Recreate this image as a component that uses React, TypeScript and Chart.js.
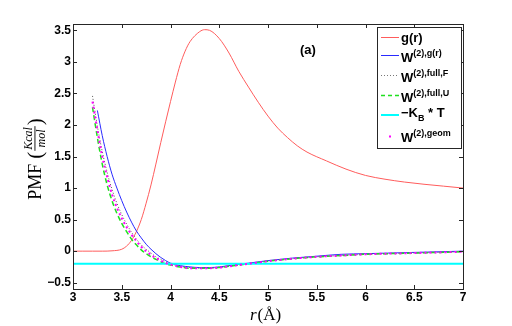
import React, { useEffect, useRef } from "react";
import { Chart, registerables } from "chart.js";
Chart.register(...registerables);

// ---- data ----
const rGr = [3.0, 3.1, 3.2, 3.3, 3.4, 3.5, 3.55, 3.6, 3.65, 3.7, 3.75, 3.8, 3.85, 3.9, 3.95, 4.0, 4.05, 4.1, 4.15, 4.2, 4.3, 4.35, 4.4, 4.5, 4.6, 4.7, 4.8, 4.9, 5.0, 5.1, 5.2, 5.3, 5.4, 5.6, 5.8, 6.0, 6.2, 6.4, 6.6, 6.8, 7.0];
const gr = [0, 0, 0, 0, 0.005, 0.03, 0.08, 0.17, 0.31, 0.5, 0.76, 1.05, 1.38, 1.72, 2.05, 2.37, 2.68, 2.96, 3.17, 3.32, 3.48, 3.51, 3.5, 3.37, 3.14, 2.85, 2.6, 2.36, 2.14, 1.95, 1.8, 1.67, 1.57, 1.43, 1.3, 1.2, 1.14, 1.095, 1.06, 1.03, 1.0];

const rW = [3.2, 3.25, 3.3, 3.35, 3.4, 3.45, 3.5, 3.55, 3.6, 3.65, 3.7, 3.75, 3.8, 3.85, 3.9, 3.95, 4.0, 4.1, 4.2, 4.3, 4.4, 4.5, 4.6, 4.7, 4.8, 5.0, 5.25, 5.5, 5.75, 6.0, 6.5, 7.0];
const rWgr = [3.25, 3.3, 3.35, 3.4, 3.45, 3.5, 3.55, 3.6, 3.65, 3.7, 3.75, 3.8, 3.85, 3.9, 3.95, 4.0, 4.1, 4.2, 4.3, 4.4, 4.5, 4.6, 4.7, 4.8, 5.0, 5.25, 5.5, 5.75, 6.0, 6.5, 7.0];
const wGr = [2.23, 1.83, 1.5, 1.22, 1.0, 0.8, 0.62, 0.46, 0.32, 0.21, 0.11, 0.03, -0.04, -0.1, -0.15, -0.19, -0.23, -0.25, -0.26, -0.26, -0.25, -0.23, -0.21, -0.19, -0.15, -0.11, -0.08, -0.05, -0.04, -0.02, 0.0];
const wFullF = [2.46, 1.98, 1.58, 1.25, 0.98, 0.76, 0.58, 0.43, 0.3, 0.19, 0.1, 0.03, -0.03, -0.09, -0.13, -0.17, -0.2, -0.24, -0.26, -0.27, -0.27, -0.26, -0.24, -0.22, -0.2, -0.16, -0.12, -0.09, -0.07, -0.05, -0.03, -0.01];
const wFullU = [2.28, 1.8, 1.38, 1.05, 0.8, 0.6, 0.44, 0.31, 0.19, 0.1, 0.02, -0.04, -0.09, -0.13, -0.17, -0.2, -0.22, -0.25, -0.27, -0.27, -0.27, -0.26, -0.24, -0.22, -0.2, -0.16, -0.12, -0.09, -0.07, -0.05, -0.03, -0.01];
const wGeom = [2.37, 1.92, 1.5, 1.18, 0.9, 0.69, 0.52, 0.38, 0.26, 0.16, 0.07, 0.0, -0.06, -0.11, -0.15, -0.19, -0.21, -0.25, -0.27, -0.27, -0.27, -0.26, -0.24, -0.22, -0.2, -0.16, -0.12, -0.09, -0.07, -0.05, -0.03, -0.01];
const rKT = [3, 7];
const kT = [-0.2, -0.2];

const xTicks = [3, 3.5, 4, 4.5, 5, 5.5, 6, 6.5, 7];
const yTicks = [-0.5, 0, 0.5, 1, 1.5, 2, 2.5, 3, 3.5];

const pts = (xs: number[], ys: number[]) => xs.map((x, i) => ({ x, y: ys[i] }));

const RED = "#ff5c5c";
const BLUE = "#2a2aff";
const DOT = "#555555";
const GREEN = "#1fe01f";
const CYAN = "#00ffff";
const MAG = "#ff00ff";

const SANS = '"Liberation Sans", Arial, sans-serif';
const SERIF = '"Liberation Serif", "DejaVu Serif", serif';

const decorPlugin = {
  id: "decor",
  afterDraw(chart: any) {
    const ctx = chart.ctx as CanvasRenderingContext2D;
    const a = chart.chartArea;
    const xs = chart.scales.x;
    const ys = chart.scales.y;
    ctx.save();
    // frame
    ctx.strokeStyle = "#262626";
    ctx.lineWidth = 1;
    ctx.strokeRect(Math.round(a.left) + 0.5, Math.round(a.top) + 0.5, Math.round(a.right - a.left), Math.round(a.bottom - a.top));
    ctx.beginPath();
    const tl = 4;
    xTicks.forEach((v) => {
      const px = Math.round(xs.getPixelForValue(v)) + 0.5;
      ctx.moveTo(px, a.bottom);
      ctx.lineTo(px, a.bottom - tl);
      ctx.moveTo(px, a.top);
      ctx.lineTo(px, a.top + tl);
    });
    yTicks.forEach((v) => {
      const py = Math.round(ys.getPixelForValue(v)) + 0.5;
      ctx.moveTo(a.left, py);
      ctx.lineTo(a.left + tl, py);
      ctx.moveTo(a.right, py);
      ctx.lineTo(a.right - tl, py);
    });
    ctx.stroke();

    // tick labels
    ctx.fillStyle = "#000";
    ctx.font = `bold 12px ${SANS}`;
    ctx.textAlign = "center";
    ctx.textBaseline = "middle";
    xTicks.forEach((v) => {
      ctx.fillText(String(v), xs.getPixelForValue(v), 298);
    });
    ctx.textAlign = "right";
    yTicks.forEach((v) => {
      ctx.fillText(v < 0 ? "\u2212" + String(-v) : String(v), a.left - 2, ys.getPixelForValue(v));
    });

    // (a) label
    ctx.fillStyle = "#000";
    ctx.font = `bold 13px ${SANS}`;
    ctx.textBaseline = "alphabetic";
    ctx.textAlign = "left";
    ctx.fillText("(a)", 300, 54);

    // legend
    const L = 377, R = 461, T = 27, B = 148;
    ctx.fillStyle = "#fff";
    ctx.fillRect(L, T, R - L, B - T);
    ctx.strokeStyle = "#262626";
    ctx.strokeRect(L + 0.5, T + 0.5, R - L, B - T);
    const lx0 = 381, lx1 = 399, tx = 401;
    const line = (y: number, color: string, w: number, dash: number[]) => {
      ctx.save();
      ctx.strokeStyle = color;
      ctx.lineWidth = w;
      ctx.setLineDash(dash);
      ctx.beginPath();
      ctx.moveTo(lx0, y);
      ctx.lineTo(lx1, y);
      ctx.stroke();
      ctx.restore();
    };
    const rich = (x: number, y: number, parts: [string, string][]) => {
      let cx = x;
      parts.forEach(([kind, s]) => {
        let dy = 0;
        if (kind === "n") ctx.font = `bold 13px ${SANS}`;
        else if (kind === "sup") { ctx.font = `bold 9px ${SANS}`; dy = -6; }
        else { ctx.font = `bold 9px ${SANS}`; dy = 4; }
        ctx.fillStyle = "#000";
        ctx.fillText(s, cx, y + dy);
        cx += ctx.measureText(s).width;
      });
    };
    line(37.5, RED, 1, []);
    rich(tx, 42, [["n", "g(r)"]]);
    line(55.5, BLUE, 1, []);
    rich(tx, 62, [["n", "W"], ["sup", "(2),g(r)"]]);
    line(75.5, "#777", 1, [1, 2]);
    rich(tx, 82, [["n", "W"], ["sup", "(2),full,F"]]);
    line(95.5, GREEN, 1.3, [4, 3]);
    rich(tx, 102, [["n", "W"], ["sup", "(2),full,U"]]);
    line(115, CYAN, 2, []);
    rich(tx, 117, [["n", "\u2212K"], ["sub", "B"], ["n", " * T"]]);
    ctx.fillStyle = MAG;
    ctx.fillRect(389, 135.5, 2, 2);
    rich(tx, 142, [["n", "W"], ["sup", "(2),geom"]]);

    // y title
    ctx.save();
    ctx.translate(35, 159);
    ctx.rotate(-Math.PI / 2);
    ctx.fillStyle = "#000";
    ctx.textBaseline = "alphabetic";
    const mainF = `18px ${SERIF}`;
    const parF = `21px ${SERIF}`;
    const fracF = `italic 12px ${SERIF}`;
    ctx.font = mainF;
    const wPMF = ctx.measureText("PMF").width;
    ctx.font = parF;
    const wP = ctx.measureText("(").width;
    ctx.font = fracF;
    const wFr = Math.max(ctx.measureText("Kcal").width, ctx.measureText("mol").width) + 4;
    const gap = 5;
    const total = wPMF + gap + wP + wFr + wP;
    let cx = -total / 2;
    ctx.font = mainF;
    ctx.textAlign = "left";
    ctx.fillText("PMF", cx, 6);
    cx += wPMF + gap;
    ctx.font = parF;
    ctx.fillText("(", cx, 7);
    cx += wP;
    ctx.font = fracF;
    ctx.textAlign = "center";
    ctx.fillText("Kcal", cx + wFr / 2, -3);
    ctx.fillText("mol", cx + wFr / 2, 10);
    ctx.fillRect(cx + 1, -0.5, wFr - 2, 0.9);
    cx += wFr;
    ctx.font = parF;
    ctx.textAlign = "left";
    ctx.fillText(")", cx, 7);
    ctx.restore();

    // x title
    ctx.fillStyle = "#000";
    ctx.textAlign = "left";
    ctx.font = `italic 17px ${SERIF}`;
    ctx.fillText("r", 250, 320);
    const wr = ctx.measureText("r").width;
    ctx.font = `17px ${SERIF}`;
    ctx.fillText("(\u00C5)", 250 + wr + 1, 320);
    ctx.restore();
  },
};

export default function App() {
  const ref = useRef<HTMLCanvasElement>(null);
  useEffect(() => {
    if (!ref.current) return;
    const chart = new Chart(ref.current, {
      type: "line",
      data: {
        datasets: [
          { label: "g(r)", data: pts(rGr, gr), borderColor: RED, borderWidth: 1, pointRadius: 0, cubicInterpolationMode: "monotone", order: 6 },
          { label: "W(2),g(r)", data: pts(rWgr, wGr), borderColor: BLUE, borderWidth: 1, pointRadius: 0, cubicInterpolationMode: "monotone", order: 5 },
          { label: "W(2),full,F", data: pts(rW, wFullF), borderColor: DOT, borderWidth: 1, borderDash: [1, 2], pointRadius: 0, cubicInterpolationMode: "monotone", order: 4 },
          { label: "W(2),full,U", data: pts(rW, wFullU), borderColor: GREEN, borderWidth: 1.5, borderDash: [5, 3], pointRadius: 0, cubicInterpolationMode: "monotone", order: 3 },
          { label: "-KB*T", data: pts(rKT, kT), borderColor: CYAN, borderWidth: 2, pointRadius: 0, order: 2 },
          { label: "W(2),geom", data: pts(rW, wGeom), borderColor: MAG, borderWidth: 2, borderDash: [2, 3], pointRadius: 0, cubicInterpolationMode: "monotone", order: 1 },
        ],
      } as any,
      options: {
        responsive: false,
        animation: false,
        layout: { padding: { top: 24, right: 49, left: 0, bottom: 0 } },
        plugins: { legend: { display: false }, tooltip: { enabled: false } },
        scales: {
          x: {
            type: "linear",
            min: 3,
            max: 7,
            grid: { display: false, drawTicks: false },
            border: { display: false },
            afterBuildTicks: (s: any) => { s.ticks = xTicks.map((v) => ({ value: v })); },
            afterFit: (s: any) => { s.height = 37; },
            ticks: { display: false },
          },
          y: {
            type: "linear",
            min: -0.6,
            max: 3.6,
            grid: { display: false, drawTicks: false },
            border: { display: false },
            afterBuildTicks: (s: any) => { s.ticks = yTicks.map((v) => ({ value: v })); },
            afterFit: (s: any) => { s.width = 73; },
            ticks: { display: false },
          },
        },
      } as any,
      plugins: [decorPlugin],
    });
    return () => chart.destroy();
  }, []);
  return (
    <div style={{ position: "fixed", left: 0, top: 0, width: 512, height: 326, background: "#fff" }}>
      <canvas ref={ref} width={512} height={326} style={{ width: 512, height: 326 }} />
    </div>
  );
}
